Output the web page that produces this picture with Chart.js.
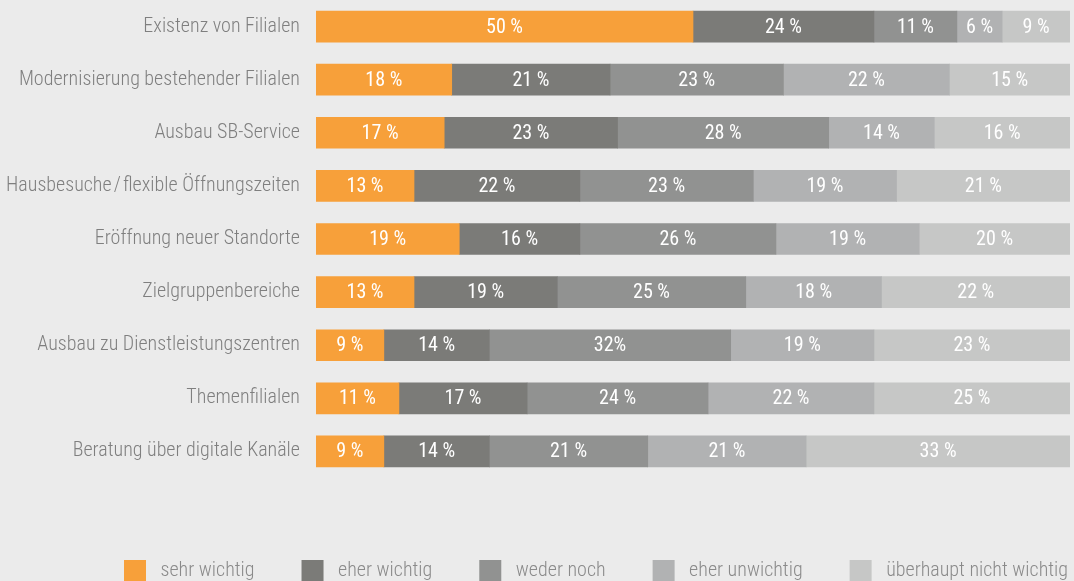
<!DOCTYPE html>
<html>
<head>
<meta charset="utf-8">
<script src="https://cdn.jsdelivr.net/npm/chart.js@4"></script>
<style>
  html, body { margin: 0; padding: 0; background: #ebebeb; overflow: hidden; }
  #wrap { width: 1074px; height: 581px; }
</style>
</head>
<body>
<div id="wrap"><canvas id="myChart" width="1074" height="581"></canvas></div>
<script>

// Categories (top to bottom)
let categories = [
    "Existenz von Filialen",
    "Modernisierung bestehender Filialen",
    "Ausbau SB-Service",
    "Hausbesuche\u200A/\u200Aflexible Öffnungszeiten",
    "Eröffnung neuer Standorte",
    "Zielgruppenbereiche",
    "Ausbau zu Dienstleistungszentren",
    "Themenfilialen",
    "Beratung über digitale Kanäle"
];

// Series values in % (as printed)
let sehrWichtig    = [50, 18, 17, 13, 19, 13,  9, 11,  9];
let eherWichtig    = [24, 21, 23, 22, 16, 19, 14, 17, 14];
let wederNoch      = [11, 23, 28, 23, 26, 25, 32, 24, 21];
let eherUnwichtig  = [ 6, 22, 14, 19, 19, 18, 19, 22, 21];
let nichtWichtig   = [ 9, 15, 16, 21, 20, 22, 23, 25, 33];

let seriesNames = ["sehr wichtig", "eher wichtig", "weder noch", "eher unwichtig", "überhaupt nicht wichtig"];
let seriesColors = ["#f7a03a", "#7b7b78", "#919291", "#b1b2b3", "#c6c7c6"];

// the last segment fills the bar up to 100 %, like in the original
let restBar = nichtWichtig.map((v, i) =>
    100 - sehrWichtig[i] - eherWichtig[i] - wederNoch[i] - eherUnwichtig[i]);

let values = [sehrWichtig, eherWichtig, wederNoch, eherUnwichtig, nichtWichtig];
let barData = [sehrWichtig, eherWichtig, wederNoch, eherUnwichtig, restBar];

const FONT = "'Roboto Condensed', 'Open Sans Condensed', sans-serif";

// white % labels inside the segments
const valueLabels = {
    id: 'valueLabels',
    afterDatasetsDraw(chart) {
        const ctx = chart.ctx;
        ctx.save();
        ctx.font = "400 20px " + FONT;
        ctx.fillStyle = "#ffffff";
        ctx.textAlign = "center";
        ctx.textBaseline = "middle";
        chart.data.datasets.forEach((ds, di) => {
            chart.getDatasetMeta(di).data.forEach((bar, i) => {
                let v = values[di][i];
                let txt = (di === 2 && i === 6) ? v + "%" : v + " %";
                ctx.fillText(txt, (bar.x + bar.base) / 2, bar.y + 1);
            });
        });
        ctx.restore();
    }
};

// move the legend row to where it sits in the original
const legendPlace = {
    id: 'legendPlace',
    afterLayout(chart) {
        const l = chart.legend;
        l.left = 77;
        l.top = 513;
        l.right = l.left + 1100;
        l.bottom = l.top + l.height;
    }
};

const ctx = document.getElementById('myChart').getContext('2d');

new Chart(ctx, {
    type: 'bar',
    data: {
        labels: categories,
        datasets: barData.map((d, i) => ({
            label: seriesNames[i],
            data: d,
            backgroundColor: seriesColors[i],
            borderWidth: 0,
            barThickness: 31
        }))
    },
    options: {
        indexAxis: 'y',
        responsive: false,
        animation: false,
        layout: { padding: { left: 0, right: 4, top: -1, bottom: 24 } },
        plugins: {
            tooltip: { enabled: false },
            legend: {
                position: 'bottom',
                align: 'start',
                labels: {
                    boxWidth: 22,
                    boxHeight: 22,
                    padding: 47,
                    color: "#8a8a8a",
                    font: { family: FONT, size: 20, weight: 300 },
                    generateLabels(chart) {
                        return Chart.defaults.plugins.legend.labels.generateLabels(chart)
                            .map(it => Object.assign(it, { text: " " + it.text }));
                    }
                }
            }
        },
        scales: {
            x: {
                stacked: true,
                min: 0,
                max: 100,
                display: false
            },
            y: {
                stacked: true,
                grid: { display: false },
                border: { display: false },
                ticks: {
                    color: "#7f7f7f",
                    padding: 8,
                    font: { family: FONT, size: 20, weight: 300 }
                },
                afterFit(scale) {
                    scale.width = 316;
                    scale.paddingTop = 0;
                    scale.paddingBottom = 0;
                }
            }
        }
    },
    plugins: [valueLabels, legendPlace]
});
</script>
</body>
</html>
